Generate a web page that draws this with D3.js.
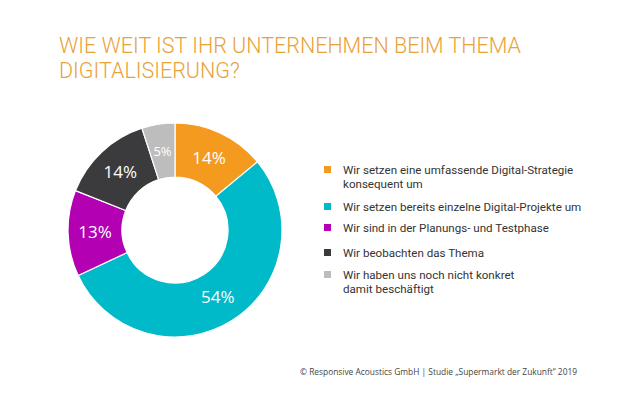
<!DOCTYPE html>
<html>
<head>
<meta charset="utf-8">
<script src="https://cdn.jsdelivr.net/npm/d3@7"></script>
<style>
  body { margin: 0; background: #fff; }
  text { font-family: "Open Sans", sans-serif; }
</style>
</head>
<body>
<svg id="chart" width="620" height="399"></svg>
<script>
var categories = [
    ["Wir setzen eine umfassende Digital-Strategie", "konsequent um"],
    ["Wir setzen bereits einzelne Digital-Projekte um"],
    ["Wir sind in der Planungs- und Testphase"],
    ["Wir beobachten das Thema"],
    ["Wir haben uns noch nicht konkret", "damit beschäftigt"]
];
var values = [14, 54, 13, 14, 5];
var colors = ["#f39a1f", "#00b9c9", "#b300b3", "#3b3b3d", "#bdbdbd"];
var legendY = [170, 207, 228, 253, 275];

var svg = d3.select("#chart");

// Title
svg.append("text")
    .attr("x", 59).attr("y", 53)
    .attr("fill", "#e9a238")
    .style("font-family", "Roboto").style("font-weight", 300)
    .style("font-size", "21.5px")
    .text("WIE WEIT IST IHR UNTERNEHMEN BEIM THEMA");
svg.append("text")
    .attr("x", 59).attr("y", 78)
    .attr("fill", "#e9a238")
    .style("font-family", "Roboto").style("font-weight", 300)
    .style("font-size", "21.5px")
    .text("DIGITALISIERUNG?");

// Donut
var cx = 175, cy = 230, outerR = 107, innerR = 53;
var pie = d3.pie().sort(null).value(function (d) { return d; });
var arc = d3.arc().innerRadius(innerR).outerRadius(outerR);
var labelArc = d3.arc().innerRadius(80).outerRadius(80);

var g = svg.append("g").attr("transform", "translate(" + cx + "," + cy + ")");
var arcs = pie(values);

g.selectAll(".slice")
    .data(arcs)
    .enter().append("path")
    .attr("class", "slice")
    .attr("d", arc)
    .attr("fill", function (d, i) { return colors[i]; })
    .attr("stroke", "#fff")
    .attr("stroke-width", 1.2);

g.selectAll(".pct")
    .data(arcs)
    .enter().append("text")
    .attr("class", "pct")
    .attr("transform", function (d) { return "translate(" + labelArc.centroid(d) + ")"; })
    .attr("text-anchor", "middle")
    .attr("dy", "0.35em")
    .attr("fill", "#fff")
    .style("font-size", function (d) { return d.data < 10 ? "13px" : "17px"; })
    .text(function (d) { return d.data + "%"; });

// Legend
var legend = svg.selectAll(".legend")
    .data(categories)
    .enter().append("g")
    .attr("class", "legend")
    .attr("transform", function (d, i) { return "translate(0," + legendY[i] + ")"; });

legend.append("rect")
    .attr("x", 324).attr("y", -4)
    .attr("width", 7).attr("height", 7)
    .attr("fill", function (d, i) { return colors[i]; });

legend.append("text")
    .attr("x", 343).attr("y", 4)
    .attr("fill", "#333")
    .style("font-family", "Roboto")
    .style("font-size", "11.6px")
    .selectAll("tspan")
    .data(function (d) { return d; })
    .enter().append("tspan")
    .attr("x", 343)
    .attr("dy", function (d, i) { return i === 0 ? 0 : 14; })
    .text(function (d) { return d; });

// Footer
svg.append("text")
    .attr("x", 300).attr("y", 375)
    .attr("fill", "#444")
    .style("font-size", "8.4px")
    .text("© Responsive Acoustics GmbH  |  Studie „Supermarkt der Zukunft“ 2019");
</script>
</body>
</html>
